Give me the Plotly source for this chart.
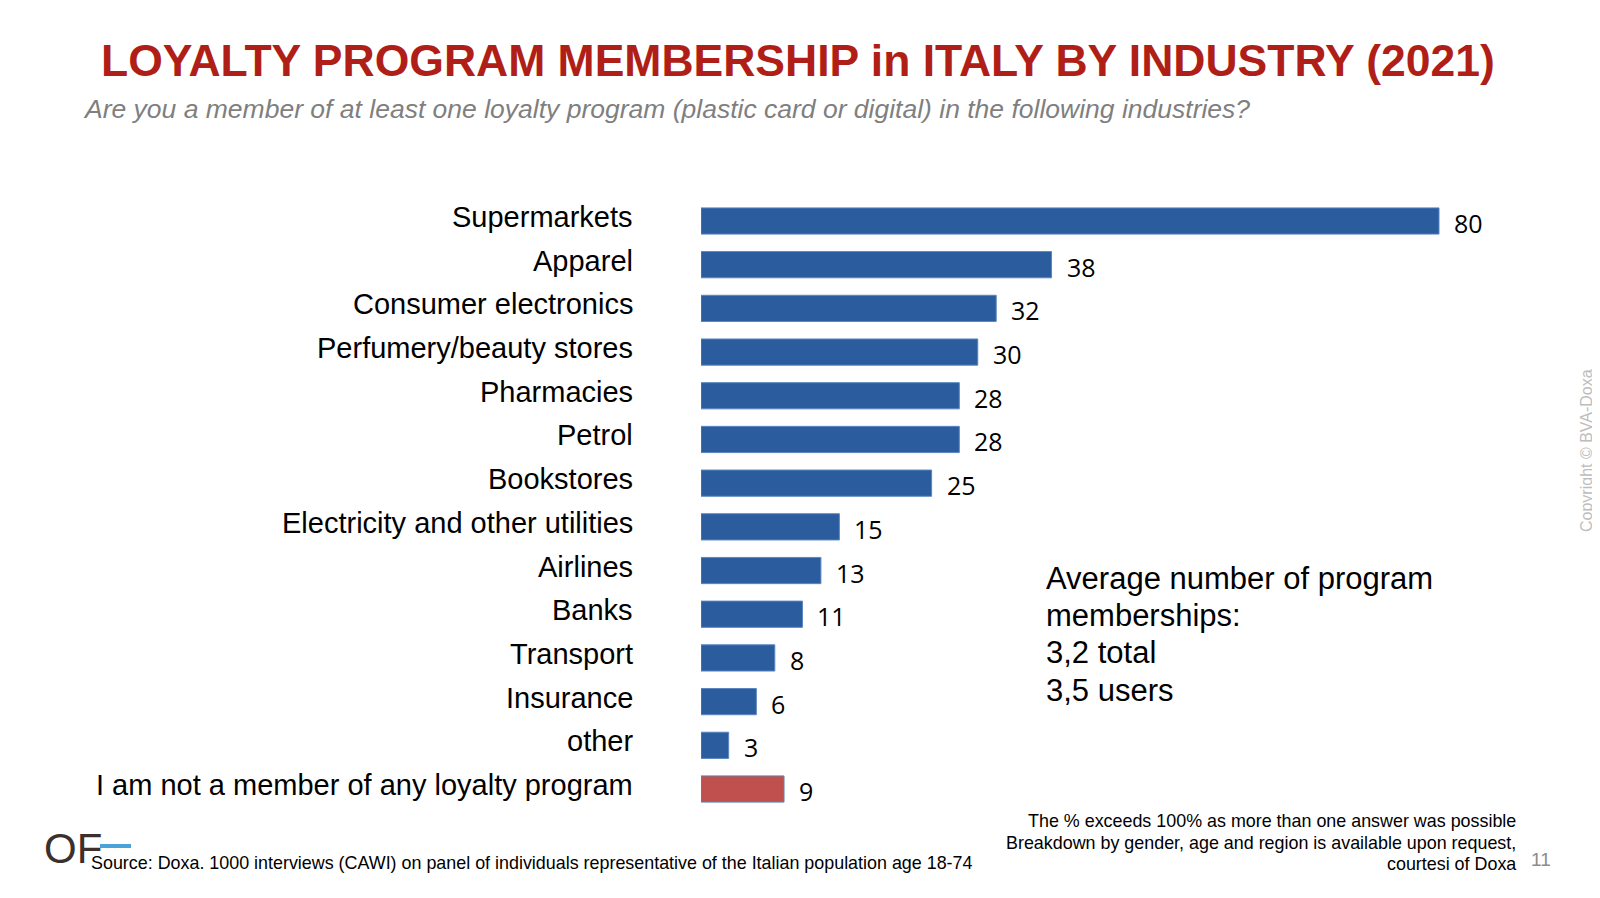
import plotly.graph_objects as go

# figure sized to fit inside the page (body has a default 8px margin)
W, H = 1592, 890

categories = [
    "Supermarkets", "Apparel", "Consumer electronics", "Perfumery/beauty stores",
    "Pharmacies", "Petrol", "Bookstores", "Electricity and other utilities",
    "Airlines", "Banks", "Transport", "Insurance", "other",
    "I am not a member of any loyalty program",
]
values = [80, 38, 32, 30, 28, 28, 25, 15, 13, 11, 8, 6, 3, 9]

title_text = "LOYALTY PROGRAM MEMBERSHIP in ITALY BY INDUSTRY (2021)"
subtitle_text = ("Are you a member of at least one loyalty program "
                 "(plastic card or digital) in the following industries?")
average_lines = ["Average number of program", "memberships:", "3,2 total", "3,5 users"]
source_text = ("Source: Doxa. 1000 interviews (CAWI) on panel of individuals "
               "representative of the Italian population age 18-74")
note_lines = [
    "The % exceeds 100% as more than one answer was possible",
    "Breakdown by gender, age and region is available upon request,",
    "courtesi of Doxa",
]
page_number = "11"
copyright_text = "Copyright © BVA-Doxa"
logo_text = "OF"

BLUE = "#2A5C9E"
RED = "#C0504D"
FONT = "Liberation Sans"


def px(x):
    return x / W


def py(y):
    return 1 - y / H


colors = [RED if c.startswith("I am not") else BLUE for c in categories]

fig = go.Figure(
    go.Bar(
        x=values,
        y=categories,
        orientation="h",
        marker=dict(color=colors, line=dict(color="#5B86C0", width=1)),
        width=0.6,
        hoverinfo="x+y",
    )
)

# axis geometry (pixels from the figure's top-left corner)
x_left, x_80 = 693, 1431
ppu = (x_80 - x_left) / 80.0
x_max = 90
row_top, row_bot = 213, 781
step = (row_bot - row_top) / (len(categories) - 1)
y_top_px = row_top - step / 2
y_bot_px = row_bot + step / 2

fig.update_xaxes(
    range=[0, x_max],
    domain=[px(x_left), px(x_left + ppu * x_max)],
    visible=False,
    fixedrange=True,
)
fig.update_yaxes(
    range=[len(categories) - 0.5, -0.5],
    domain=[py(y_bot_px), py(y_top_px)],
    showticklabels=False,
    showgrid=False,
    zeroline=False,
    showline=False,
    ticks="",
)

ann = []
# category labels
for c in categories:
    ann.append(dict(
        x=px(627), xref="paper", y=c, yref="y", text=c, showarrow=False,
        xanchor="right", yanchor="middle", yshift=4,
        font=dict(family=FONT, size=29, color="#000000"),
    ))
# value labels
for c, v in zip(categories, values):
    ann.append(dict(
        x=v, xref="x", y=c, yref="y", text=str(v), showarrow=False,
        xanchor="left", yanchor="middle", xshift=13, yshift=-2,
        font=dict(family="Open Sans", size=25, color="#000000"),
    ))

# title & subtitle
ann.append(dict(
    x=px(790), y=py(53), xref="paper", yref="paper", text="<b>" + title_text + "</b>",
    showarrow=False, xanchor="center", yanchor="middle",
    font=dict(family=FONT, size=44.5, color="#B01F17"),
))
ann.append(dict(
    x=px(73), y=py(101), xref="paper", yref="paper", text="<i>" + subtitle_text + "</i>",
    showarrow=False, xanchor="left", yanchor="middle",
    font=dict(family=FONT, size=26.5, color="#7F7F7F"),
))

# average block
avg_y = [570, 607, 644, 682]
for t, yy in zip(average_lines, avg_y):
    ann.append(dict(
        x=px(1036), y=py(yy), xref="paper", yref="paper", text=t,
        showarrow=False, xanchor="left", yanchor="middle",
        font=dict(family=FONT, size=31, color="#000000"),
    ))

# footnotes
note_y = [813, 835, 856]
for t, yy in zip(note_lines, note_y):
    ann.append(dict(
        x=px(1510), y=py(yy), xref="paper", yref="paper", text=t,
        showarrow=False, xanchor="right", yanchor="middle",
        font=dict(family=FONT, size=17.9, color="#000000"),
    ))
ann.append(dict(
    x=px(81), y=py(855), xref="paper", yref="paper", text=source_text,
    showarrow=False, xanchor="left", yanchor="middle",
    font=dict(family=FONT, size=17.9, color="#000000"),
))
ann.append(dict(
    x=px(1533), y=py(851), xref="paper", yref="paper", text=page_number,
    showarrow=False, xanchor="center", yanchor="middle",
    font=dict(family=FONT, size=19, color="#8C8C8C"),
))
ann.append(dict(
    x=px(1578), y=py(443), xref="paper", yref="paper", text=copyright_text,
    showarrow=False, xanchor="center", yanchor="middle", textangle=-90,
    font=dict(family=FONT, size=16, color="#BDBDBD"),
))
ann.append(dict(
    x=px(34), y=py(840), xref="paper", yref="paper", text=logo_text,
    showarrow=False, xanchor="left", yanchor="middle",
    font=dict(family=FONT, size=42, color="#3B302B"),
))

shapes = [
    dict(type="line", xref="paper", yref="paper", x0=px(92), x1=px(123),
         y0=py(838), y1=py(838), line=dict(color="#4AA3D8", width=4)),
    dict(type="line", xref="paper", yref="paper", x0=px(1589), x1=px(1589),
         y0=0, y1=1, line=dict(color="#9A9A9A", width=1.5)),
]

fig.update_layout(
    width=W, height=H,
    margin=dict(l=0, r=0, t=0, b=0),
    paper_bgcolor="#FFFFFF",
    plot_bgcolor="rgba(0,0,0,0)",
    showlegend=False,
    annotations=ann,
    shapes=shapes,
    bargap=0.39,
)

fig.write_html("out.html", config={"displayModeBar": False})
